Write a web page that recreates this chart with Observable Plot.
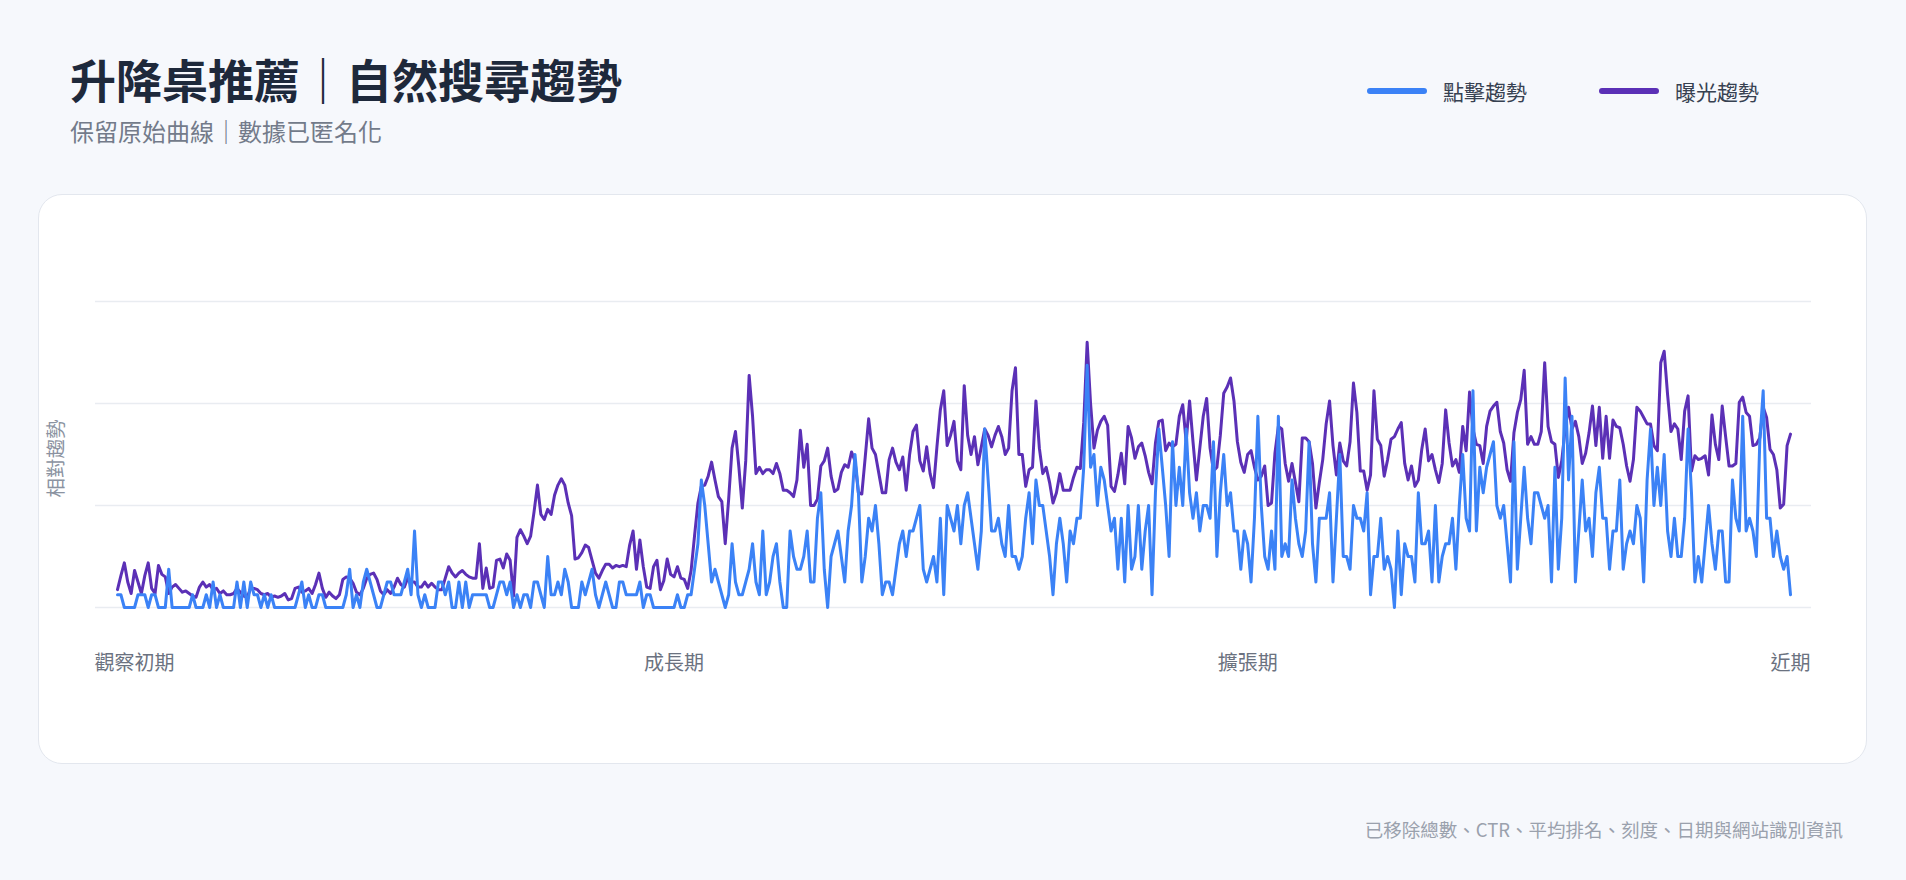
<!DOCTYPE html>
<html><head><meta charset="utf-8">
<script src="https://cdn.jsdelivr.net/npm/d3@7"></script>
<script src="https://cdn.jsdelivr.net/npm/@observablehq/plot@0.6"></script>
<style>
html,body{margin:0;padding:0;}
body{width:1906px;height:880px;background:#f6f8fc;position:relative;overflow:hidden;font-family:"Noto Sans CJK TC","Noto Sans",sans-serif;}
#title{position:absolute;left:70px;top:52px;font-size:46px;line-height:52px;font-weight:700;color:#1e293b;white-space:nowrap;}
#subtitle{position:absolute;left:70px;top:116px;font-size:24px;line-height:30px;color:#737b8a;white-space:nowrap;}
#legend{position:absolute;left:1367px;top:76px;height:30px;display:flex;align-items:center;font-size:21px;color:#374151;white-space:nowrap;}
#legend .sw{width:60px;height:6px;border-radius:3px;margin-right:16px;}
#legend .item{display:flex;align-items:center;margin-right:72px;}
#card{position:absolute;left:38px;top:194px;width:1829px;height:570px;background:#fff;border:1.5px solid #e3e7ee;border-radius:24px;box-sizing:border-box;}
#chart{position:absolute;left:39px;top:194px;}
#footer{position:absolute;right:63px;top:816px;font-size:18.5px;line-height:26px;color:#9aa1ad;white-space:nowrap;}
</style></head>
<body>
<div id="title">升降桌推薦｜自然搜尋趨勢</div>
<div id="subtitle">保留原始曲線｜數據已匿名化</div>
<div id="legend"></div>
<div id="card"></div>
<div id="chart"></div>
<div id="footer">已移除總數、CTR、平均排名、刻度、日期與網站識別資訊</div>
<script>
// 點擊趨勢 (clicks, relative units)
const clicks = [
1,1,0,0,0,0,1,1,1,0, 1,1,0,0,0,3,0,0,0,0, 0,0,1,0,0,0,1,0,2,0, 1,0,0,0,0,2,0,2,0,2, 1,1,0,1,0,1,0,0,0,0, 0,0,0,1,2,
0,1,0,0,1,1,0,0,0,0, 0,0,1,3,0,1,0,2,3,2, 1,0,0,1,2,2,1,1,1,2, 3,1,6,1,0,1,0,0,0,2, 2,1,2,0,0,2,0,2,0,1, 1,1,1,1,0,0,1,
2,2,1,2,0,1,0,1,1,0, 2,2,1,0,4,1,1,2,1,3, 2,0,0,0,2,1,2,3,1,0, 1,2,1,0,0,2,2,1,1,1, 1,2,0,1,1,0,0,0,0,0, 0,0,1,0,0,1,1,
3,5,10,8,5,2,3,2,1,0, 1,5,2,1,1,2,3,5,2,1, 6,1,2,4,5,2,0,0,6,4, 3,3,4,6,2,2,7,9,3,0, 4,5,6,4,2,6,8,12,9,2, 4,7,6,8,5,1,
2,2,1,3,5,6,4,6,6,7, 8,3,2,3,4,2,7,1,8,7, 6,8,5,8,9,7,5,3,6,14, 10,6,6,7,5,4,8,4,4,3, 4,7,9,5,10,8,8,6,4,1, 5,7,5,2,6,5,
7,7,11,19,11,12,8,11,10,8, 6,7,3,7,2,8,3,4,8,3, 6,8,1,9,14,11,8,4,13,8, 11,8,14,9,7,9,6,8,8,7, 13,4,9,12,8,9,6,6,3,6, 5,2,7,15,8,4,3,
6,3,15,4,5,4,10,7,5,4, 6,13,5,2,7,7,7,9,2,7, 12,4,4,3,8,7,7,6,9,1, 4,4,7,3,4,3,0,6,1,5, 4,4,2,9,5,5,6,2,8,2, 4,5,5,7,3,8,12,7,6,
17,6,11,9,11,12,13,8,7,8,5, 2,13,3,7,11,7,5,9,9,8,7,8, 2,11,3,7,18,10,15,2,6,10,6, 7,4,9,11,7,7,3,6,6,10,3,
5,6,5,8,7,2,10,14,8,11,8, 12,6,4,7,4,4,7,14,9,2,4,2, 5,8,5,3,6,6,2,2,10,7,6, 15,6,7,6,4,13,17,7,7,4,6,4,3,4,1
];
// 曝光趨勢 (impressions, relative units)
const impressions = [
1.4,2.5,3.5,2.0,1.1,2.9,2.0,1.1,2.5,3.5, 1.5,1.1,3.3,2.6,2.4,1.1,1.6,1.8,1.5,1.2, 1.3,1.1,0.9,0.8,1.6,2.0,1.6,1.8,1.4,1.5, 1.1,1.3,1.0,1.0,1.1,1.5,1.2,0.9,0.8,1.5, 1.5,1.4,1.1,1.0,1.1,0.8,0.9,0.8,0.9,1.1, 0.6,0.7,1.5,1.6,1.2,
1.3,1.5,1.1,1.8,2.7,1.5,0.8,1.2,0.9,0.7, 1.0,2.2,2.4,2.3,1.9,1.2,1.0,1.5,2.3,2.6, 2.7,2.2,1.3,1.0,1.4,1.1,1.6,2.3,1.8,1.6, 2.3,2.0,2.0,1.6,1.6,2.0,1.6,1.9,1.6,1.4, 1.4,2.3,3.2,2.7,2.4,2.7,2.9,2.6,2.4,2.3, 2.3,5.0,1.5,3.1,1.5,1.6,3.7,
3.8,3.1,4.2,3.7,0.9,5.5,6.1,5.6,5.0,5.6, 7.5,9.6,7.3,6.9,7.7,7.3,8.8,9.6,10.1,9.6, 8.2,7.2,3.8,3.9,4.3,4.9,4.7,3.7,2.7,2.3, 2.9,3.4,3.4,3.1,3.3,3.2,3.3,3.2,4.9,6.0, 3.0,5.3,3.2,1.6,1.5,3.2,3.7,1.4,2.1,3.8, 2.6,2.4,3.2,2.3,2.2,1.5,2.9,
5.6,8.2,9.5,9.6,10.3,11.4,10.0,8.7,8.3,5.0, 8.5,12.5,13.8,11.0,7.8,11.5,18.2,15.0,10.5,11.0, 10.5,10.8,10.8,10.5,11.3,10.5,9.2,9.2,9.0,8.7, 10.0,13.9,11.0,12.8,8.0,8.0,8.5,11.1,11.5,12.5, 10.3,9.1,9.3,10.6,11.2,11.0,12.2,11.5,9.0,8.9, 11.8,14.8,12.5,12.0,10.5,9.0,
9.0,11.6,12.5,11.4,10.8,11.8,9.2,12.0,13.8,14.3, 11.5,10.7,12.6,10.5,9.4,12.6,15.5,17.0,12.7,13.5, 14.6,11.5,10.8,17.4,13.5,12.0,13.4,11.2,12.6,14.0, 13.5,12.6,13.5,14.2,13.4,12.0,12.5,17.0,18.8,12.0, 12.0,9.5,10.8,11.0,16.2,12.5,10.5,11.0,9.8,8.2, 9.0,10.5,9.2,9.2,9.2,10.2,
11.0,10.9,14.5,20.8,16.0,12.5,13.9,14.6,15.0,14.3, 9.5,9.1,10.4,12.1,9.7,14.2,13.3,11.7,12.6,12.9, 11.9,10.6,9.7,12.9,14.6,14.7,12.3,12.9,12.6,12.8, 15.0,15.9,13.0,16.2,13.0,10.0,12.5,15.0,16.4,12.5, 10.7,11.0,13.5,16.8,17.3,18.0,16.2,13.0,11.4,10.6, 12.0,12.3,11.0,10.0,10.3,11.1,8.0,
8.2,12.1,14.2,14.0,11.3,9.9,11.3,9.8,8.3,13.3, 13.3,13.0,11.3,7.8,9.8,11.6,14.4,16.2,12.7,10.4, 12.9,11.5,11.1,13.0,17.6,15.3,10.7,10.7,9.2,10.4, 17.0,13.2,12.7,10.3,11.6,13.2,13.4,14.0,14.5,11.3, 10.0,11.1,9.5,10.0,12.4,14.0,11.5,12.0,10.8,9.8, 11.3,15.5,12.9,11.1,11.6,10.6,14.2,12.3,16.9,
14.0,12.8,12.7,11.3,14.2,15.4,15.8,16.1,13.8,12.9, 10.8,9.9,13.7,15.3,16.3,18.6,12.8,13.4,12.8,12.8, 13.8,19.2,14.2,13.0,12.8,10.2,11.5,14.0,15.7,14.0, 14.6,13.4,11.3,12.1,13.7,15.8,12.7,15.7,11.7,15.0,
11.7,14.7,14.2,14.1,12.8,11.1,9.9,11.6,15.7,15.4, 14.9,14.4,14.4,12.7,12.3,19.2,20.1,16.7,13.8,14.4, 14.0,11.6,15.4,16.6,10.7,11.9,11.6,11.7,11.9,10.4, 15.1,12.8,11.6,15.8,13.4,11.1,11.1,11.3,16.1,16.5, 15.3,15.0,12.7,12.8,13.3,15.7,14.9,12.4,12.0,10.8, 7.8,8.1,12.7,13.6
];
const seriesNames = ["點擊趨勢", "曝光趨勢"];
const phaseLabels = ["觀察初期", "成長期", "擴張期", "近期"];
const phaseTicks = [5, 163, 331, 490];
const gridLevels = [0, 8, 16, 24];
const yLabel = "相對趨勢";

const BLUE = "#3b82f6", PURPLE = "#5b30b6";
const colors = [BLUE, PURPLE];

const legend = document.getElementById("legend");
seriesNames.forEach((name, k) => {
  const it = document.createElement("div");
  it.className = "item";
  const sw = document.createElement("div");
  sw.className = "sw";
  sw.style.background = colors[k];
  const tx = document.createElement("span");
  tx.textContent = name;
  it.appendChild(sw); it.appendChild(tx);
  legend.appendChild(it);
});

const n = Math.min(clicks.length, impressions.length);
const rows = d3.range(n).map(i => ({i, clicks: clicks[i], impressions: impressions[i]}));

const chart = Plot.plot({
  width: 1828, height: 569,
  marginLeft: 56, marginRight: 56, marginTop: 107, marginBottom: 156,
  style: {background: "transparent", fontFamily: '"Noto Sans CJK TC","Noto Sans",sans-serif', overflow: "visible"},
  x: {domain: [0, n - 1], insetLeft: 22, insetRight: 21, axis: null},
  y: {domain: [0, 24], axis: null},
  marks: [
    Plot.ruleY(gridLevels, {stroke: "#e9ecf1", strokeWidth: 1.5}),
    Plot.lineY(rows, {x: "i", y: "impressions", stroke: PURPLE, strokeWidth: 3, strokeLinejoin: "round"}),
    Plot.lineY(rows, {x: "i", y: "clicks", stroke: BLUE, strokeWidth: 3, strokeLinejoin: "round"}),
    Plot.text(phaseLabels, {x: phaseTicks, text: d => d, frameAnchor: "bottom", dy: 62, fontSize: 20, fill: "#6b7280"}),
    Plot.text([yLabel], {frameAnchor: "left", textAnchor: "middle", rotate: -90, dx: -39, dy: 4, fontSize: 19.5, fill: "#8b93a1"})
  ]
});
document.getElementById("chart").appendChild(chart);
</script>
</body></html>
